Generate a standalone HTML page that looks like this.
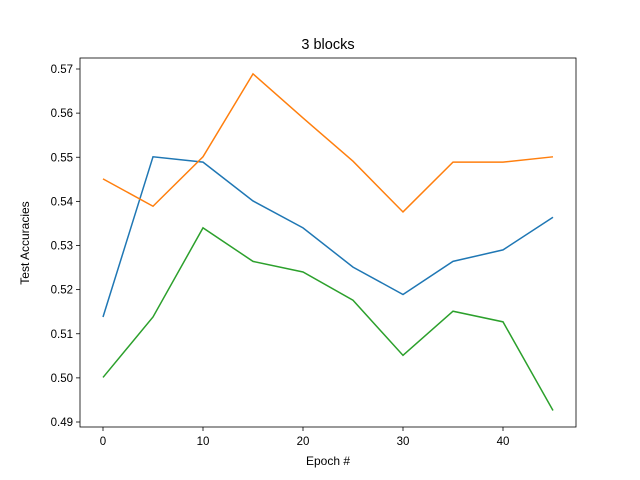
<!DOCTYPE html>
<html><head><meta charset="utf-8"><style>
body{margin:0;background:#fff;}
svg{display:block;font-family:"Liberation Sans","DejaVu Sans",sans-serif;}
</style></head><body>
<svg id="chart" width="640" height="480">
<rect width="640" height="480" fill="#fff"/>
<text x="328" y="49" text-anchor="middle" font-size="14.5">3 blocks</text>
<g id="axes"></g>
<text x="328" y="465" text-anchor="middle" font-size="12">Epoch #</text>
<text x="29" y="243" text-anchor="middle" font-size="12" transform="rotate(-90 29 243)">Test Accuracies</text>
</svg>
<script>
const epochs=[0,5,10,15,20,25,30,35,40,45];
const blue=[0.5138,0.5501,0.5489,0.5401,0.5340,0.5251,0.5189,0.5264,0.5290,0.5364];
const orange=[0.5451,0.5389,0.5501,0.5689,0.5589,0.5491,0.5376,0.5489,0.5489,0.5501];
const green=[0.5001,0.5138,0.5340,0.5264,0.5240,0.5176,0.5051,0.5151,0.5127,0.4926];
const xTicks=[0,10,20,30,40];
const yTicks=[0.49,0.50,0.51,0.52,0.53,0.54,0.55,0.56,0.57];
const L=80,R=576,T=58,B=427;
const xs=v=>103+(v-0)*10;
const ys=v=>422-(v-0.49)*4412.5;
const ns="http://www.w3.org/2000/svg";
const g=document.getElementById('axes');
function mk(t,a){const e=document.createElementNS(ns,t);for(const k in a)e.setAttribute(k,a[k]);g.appendChild(e);return e;}
xTicks.forEach(v=>{
 const l=mk('line',{x1:xs(v),x2:xs(v),y1:B,y2:B+4,stroke:'#000','stroke-width':0.8});
 
 
 const t=mk('text',{x:xs(v),y:B+18,'text-anchor':'middle','font-size':11.5});
 t.textContent=v;
 
 
});
yTicks.forEach(v=>{
 const l=mk('line',{x1:L-4,x2:L,y1:ys(v),y2:ys(v),stroke:'#000','stroke-width':0.8});
 
 
 const t=mk('text',{x:L-7,y:ys(v)+4,'text-anchor':'end','font-size':11.5});
 t.textContent=v.toFixed(2);
 
 
});
[[blue,'#1f77b4','series-blue'],[orange,'#ff7f0e','series-orange'],[green,'#2ca02c','series-green']].forEach(([d,c,n])=>{
 const p=mk('polyline',{points:d.map((v,i)=>xs(epochs[i])+','+ys(v)).join(' '),fill:'none',stroke:c,'stroke-width':1.5});
 
 
});
const f=mk('rect',{x:L,y:T,width:R-L,height:B-T,fill:'none',stroke:'#000','stroke-width':0.8});


</script>
</body></html>
